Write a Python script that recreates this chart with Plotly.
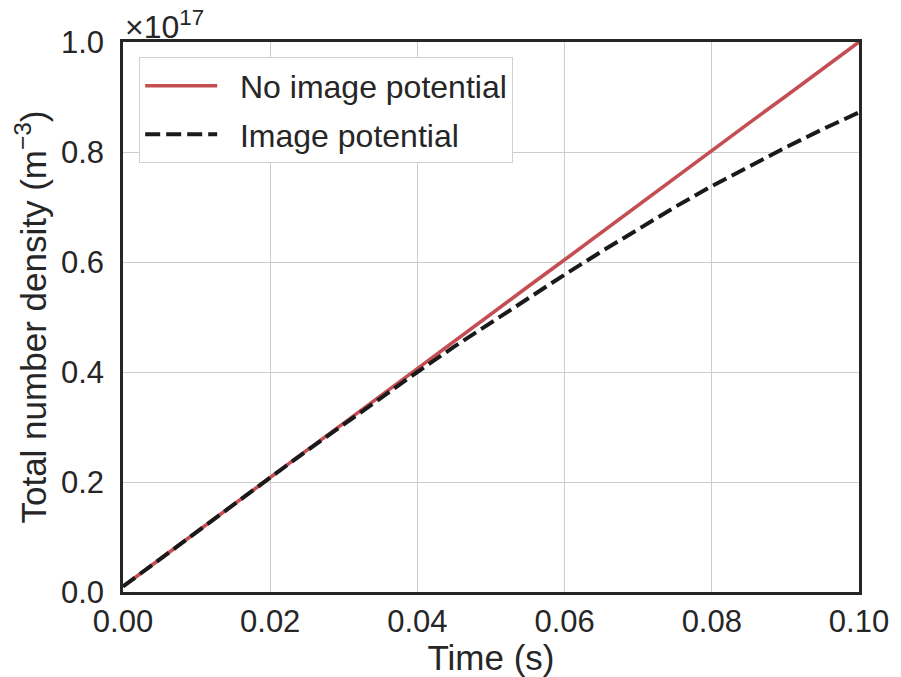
import plotly.graph_objects as go

# Time samples (s)
time_s = [0.000, 0.005, 0.010, 0.015, 0.020, 0.025, 0.030, 0.035, 0.040, 0.045,
          0.050, 0.055, 0.060, 0.065, 0.070, 0.075, 0.080, 0.085, 0.090, 0.095, 0.100]

# Total number density in units of 1e17 m^-3
no_image = [0.010, 0.060, 0.109, 0.159, 0.208, 0.258, 0.307, 0.357, 0.406, 0.456,
            0.505, 0.555, 0.604, 0.654, 0.703, 0.753, 0.802, 0.852, 0.901, 0.951, 1.000]
with_image = [0.010, 0.060, 0.109, 0.159, 0.208, 0.257, 0.305, 0.353, 0.400, 0.446,
              0.490, 0.534, 0.577, 0.619, 0.660, 0.700, 0.738, 0.774, 0.808, 0.841, 0.872]

x_ticks = [0.00, 0.02, 0.04, 0.06, 0.08, 0.10]
y_ticks = [0.0, 0.2, 0.4, 0.6, 0.8, 1.0]

FONT = "Liberation Sans, Arial, sans-serif"
TXT = "#262626"
TICK_SIZE = 31
LEGEND_SIZE = 32
LABEL_SIZE = 35
PAD = "\u00a0\u00a0"

fig = go.Figure()
fig.add_trace(go.Scatter(
    x=time_s, y=no_image, mode="lines", name=PAD + "No image potential",
    legendgroup="a",
    line=dict(color="#C44E52", width=3.6),
))
fig.add_trace(go.Scatter(
    x=time_s, y=with_image, mode="lines", name=PAD + "Image potential",
    legendgroup="b",
    line=dict(color="#1a1a1a", width=4, dash="15px,6px"),
))

fig.update_layout(
    width=901, height=677,
    margin=dict(l=123, r=37, t=42, b=85),
    paper_bgcolor="white", plot_bgcolor="white",
    font=dict(family=FONT, size=TICK_SIZE, color=TXT),
    showlegend=True,
    legend=dict(
        x=0.022, y=0.972, xanchor="left", yanchor="top",
        bgcolor="white", bordercolor="#d0d0d0", borderwidth=1,
        font=dict(family=FONT, size=LEGEND_SIZE, color=TXT),
        itemwidth=72, tracegroupgap=4,
    ),
    xaxis=dict(
        range=[0, 0.1], tickvals=x_ticks, tickformat=".2f",
        showgrid=True, gridcolor="#cccccc", gridwidth=1,
        showline=True, linecolor="#262626", linewidth=2.5, mirror=True,
        ticks="", zeroline=False,
        title=dict(text="Time (s)", font=dict(family=FONT, size=LABEL_SIZE, color=TXT), standoff=0),
        tickfont=dict(family=FONT, size=TICK_SIZE, color=TXT),
    ),
    yaxis=dict(
        range=[0, 1.0], tickvals=y_ticks, tickformat=".1f",
        showgrid=True, gridcolor="#cccccc", gridwidth=1,
        showline=True, linecolor="#262626", linewidth=2.5, mirror=True,
        ticks="", zeroline=False, ticklabelstandoff=10,
        title=dict(text="Total number density (m<sup>−3</sup>)",
                   font=dict(family=FONT, size=LABEL_SIZE, color=TXT), standoff=4),
        tickfont=dict(family=FONT, size=TICK_SIZE, color=TXT),
    ),
)

# Scale factor for the y axis
fig.add_annotation(
    text="×10<sup>17</sup>", xref="paper", yref="paper",
    x=0.0, y=1.0, xanchor="left", yanchor="bottom", yshift=-5,
    showarrow=False, font=dict(family=FONT, size=LEGEND_SIZE, color=TXT),
)

fig.write_html("out.html")
